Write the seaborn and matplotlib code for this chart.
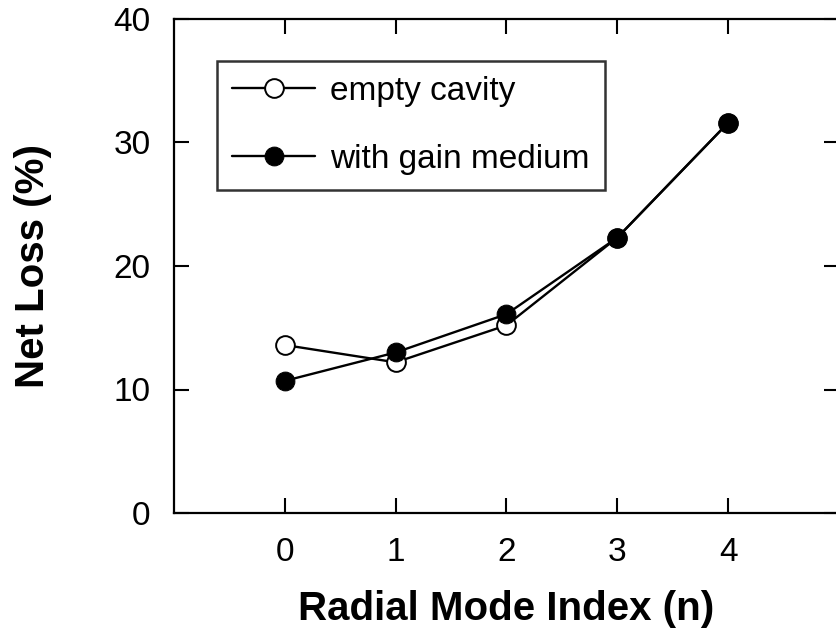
import numpy as np
import pandas as pd
import matplotlib
matplotlib.use('Agg')
import matplotlib.pyplot as plt
import seaborn as sns

mode_index = [0, 1, 2, 3, 4]
empty_cavity = [13.6, 12.2, 15.2, 22.3, 31.6]
gain_medium = [10.7, 13.0, 16.1, 22.3, 31.6]
x_ticks = [0, 1, 2, 3, 4]
y_ticks = [0, 10, 20, 30, 40]

sns.set_style('ticks')
plt.rcParams['font.family'] = ['Liberation Sans', 'DejaVu Sans']
plt.rcParams['text.color'] = 'black'
plt.rcParams['axes.labelcolor'] = 'black'

df = pd.DataFrame({'n': mode_index, 'empty': empty_cavity, 'gain': gain_medium})

fig = plt.figure(figsize=(8.36, 6.37), dpi=100)
ax = fig.add_axes([174 / 836, 1 - 513 / 637, 665 / 836, 494 / 637])

sns.lineplot(x='n', y='empty', data=df, ax=ax, color='black', linewidth=1.7,
             marker='o', markersize=13.5, markerfacecolor='white',
             markeredgecolor='black', markeredgewidth=1.4, label='empty cavity')
sns.lineplot(x='n', y='gain', data=df, ax=ax, color='black', linewidth=1.7,
             marker='o', markersize=13.5, markerfacecolor='black',
             markeredgecolor='black', label='with gain medium')

ax.set_xlim(-1, 5)
ax.set_ylim(0, 40)
ax.set_xticks(x_ticks)
ax.set_yticks(y_ticks)
ax.tick_params(direction='in', length=11, width=1.5, labelsize=24, pad=17,
               top=True, right=True, colors='black')

for s in ax.spines.values():
    s.set_visible(True)
    s.set_linewidth(1.6)
    s.set_color('black')

ax.set_xlabel('Radial Mode Index (n)', fontsize=29, fontweight='bold', labelpad=16)
ax.set_ylabel('Net Loss (%)', fontsize=29, fontweight='bold', labelpad=44)

leg = ax.legend(loc='upper left', bbox_to_anchor=(0.0647, 0.915), borderaxespad=0,
                fontsize=24, handlelength=2.5, handletextpad=0.45,
                labelspacing=1.1, borderpad=0.45, frameon=True, fancybox=False)
leg.get_frame().set_edgecolor('black')
leg.get_frame().set_linewidth(1.8)

fig.savefig('out.png', dpi=100)
